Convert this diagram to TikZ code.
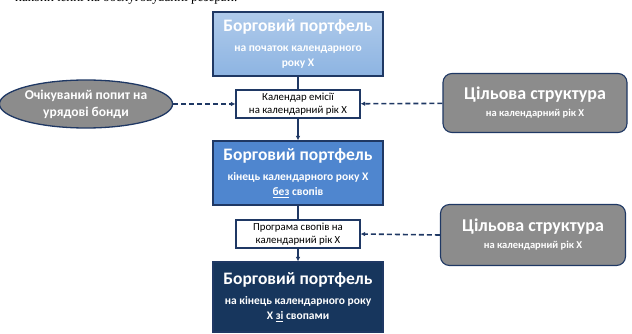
\documentclass[tikz,border=0pt]{standalone}
\usepackage{fontspec}
\setmainfont{Carlito}
\newfontfamily\topserif{Liberation Serif}
\usetikzlibrary{shapes.geometric,arrows.meta}
\definecolor{navy}{HTML}{1F3864}
\definecolor{lightblue}{HTML}{8DB4E2}
\definecolor{midblue}{HTML}{4F86CF}
\definecolor{darkblue}{HTML}{17365D}
\definecolor{greyfill}{HTML}{8C8C8C}
\newcommand{\ttl}{\fontsize{17.5}{19}\selectfont\bfseries}
\newcommand{\gttl}{\fontsize{18}{20}\selectfont\bfseries}
\begin{document}
\begin{tikzpicture}[x=1pt,y=-1pt,
  bigbox/.style={draw=navy, line width=1.1pt, minimum width=170pt, minimum height=64pt, align=center, text=white, inner sep=2pt, font=\fontsize{11.5}{15}\selectfont\bfseries},
  smallbox/.style={draw=navy, line width=1.1pt, fill=white, minimum width=124pt, minimum height=28pt, align=center, font=\fontsize{10.8}{13}\selectfont, inner sep=0pt},
  greybox/.style={draw=navy, line width=1.1pt, fill=greyfill, rounded corners=9pt, align=center, text=white, font=\fontsize{10.5}{13}\selectfont\bfseries},
  flow/.style={draw=navy, line width=1.1pt},
  flowarrow/.style={flow, -{Latex[length=4.5pt,width=4.5pt]}},
  dasharrow/.style={draw=navy, line width=1.6pt, dash pattern=on 5pt off 3pt, -{Latex[length=4.5pt,width=4.5pt]}}
]
\useasboundingbox (0,0) rectangle (632,334);
\begin{scope}
\clip (0,0) rectangle (632,8);
\node[anchor=base west, inner sep=0pt, font=\topserif\fontsize{13}{14}\selectfont] (toptext) at (15,2) {накопиченні на обслуговуванні резерви.};
\end{scope}

\node[bigbox, top color=lightblue!70!white, bottom color=lightblue] (b1) at (298,44)
  {{\ttl Борговий портфель}\\[5pt]на початок календарного\\року X};
\node[smallbox] (k1) at (298,104) {Календар емісії\\на календарний рік X};
\node[bigbox, fill=midblue] (b2) at (298,173)
  {{\ttl Борговий портфель}\\[5pt]кінець календарного року X\\\underline{без} свопів};
\node[smallbox] (k2) at (298,234) {Програма свопів на\\календарний рік X};
\node[bigbox, fill=darkblue, minimum height=70pt] (b3) at (298,297)
  {{\ttl Борговий портфель}\\[5pt]на кінець календарного року\\X \underline{зі} свопами};

\node[ellipse, draw=navy, line width=1.3pt, fill=greyfill, minimum width=160pt, minimum height=48pt, align=center, text=white, font=\fontsize{13.5}{17}\selectfont\bfseries, inner sep=0pt] (e1) at (86,104) {Очікуваний попит на\\урядові бонди};

\node[greybox, minimum width=184pt, minimum height=59pt] (c1) at (535,103)
  {{\gttl Цільова структура}\\[4pt]на календарний рік X};
\node[greybox, minimum width=185pt, minimum height=61pt] (c2) at (533,235)
  {{\gttl Цільова структура}\\[4pt]на календарний рік X};

\draw[flow] (b1) -- (k1);
\draw[flowarrow] (k1) -- (b2);
\draw[flow] (b2) -- (k2);
\draw[flowarrow] (k2) -- (b3);
\draw[dasharrow] (e1) -- (k1);
\draw[dasharrow] (c1) -- (k1);
\draw[dasharrow] (c2.west) -- (k2.east);
\end{tikzpicture}
\end{document}
